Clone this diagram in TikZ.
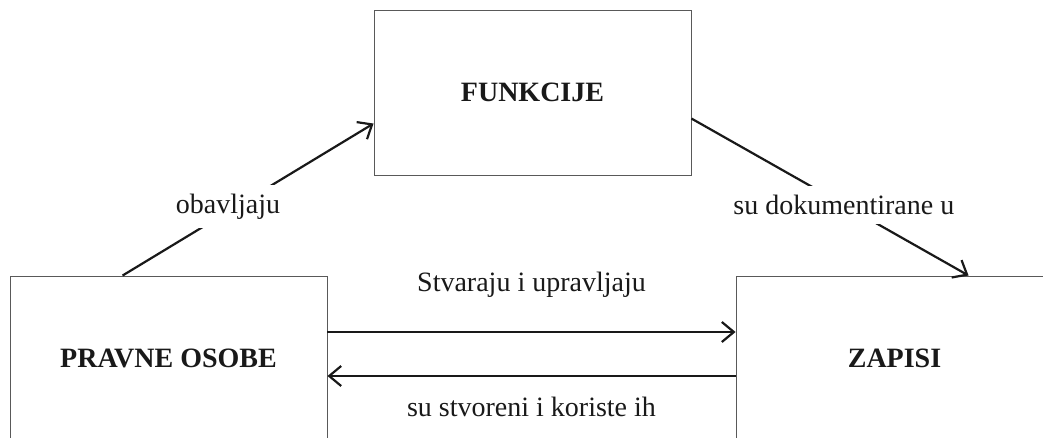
\documentclass[tikz,border=0pt]{standalone}
\usepackage{fontspec}
\setmainfont{Liberation Serif}
\usepackage{tikz}
\usetikzlibrary{arrows.meta,positioning,calc}
\tikzstyle{box}=[draw=black!65,line width=0.9pt,minimum width=317pt,inner sep=0pt,font=\fontsize{28}{32}\selectfont\bfseries,text=black!90]
\tikzstyle{link}=[line width=2.2pt,draw=black!90,-{Straight Barb[length=12pt,width=20pt]}]
\tikzstyle{lbl}=[font=\fontsize{28}{32}\selectfont,text=black!90]
\tikzstyle{cut}=[lbl,fill=white,inner sep=9pt]

\begin{document}
\begin{tikzpicture}[x=1pt,y=1pt]
\useasboundingbox (0,0) rectangle (1043,438);
\node [box,minimum height=165pt] (funkcije) at (532.5,345.5) {FUNKCIJE};
\node [box,minimum height=164pt] (pravne) at (168.5,80) {PRAVNE OSOBE};
\node [box,minimum height=164pt] (zapisi) at (894.5,80) {ZAPISI};

\draw [link] ([xshift=113pt]pravne.north west) --
	node [cut,pos=0.42,yshift=5pt] {obavljaju} ([yshift=-114pt]funkcije.north west);
\draw [link] ([yshift=-109pt]funkcije.north east) --
	node [cut,pos=0.55] {su dokumentirane u} ([xshift=233pt]zapisi.north west);
\draw [link] ([yshift=26pt]pravne.east) --
	node [lbl,midway,anchor=base,yshift=40pt] {Stvaraju i upravljaju} ([yshift=26pt]zapisi.west);
\draw [link] ([yshift=-18pt]zapisi.west) --
	node [lbl,midway,anchor=base,yshift=-41pt] {su stvoreni i koriste ih} ([yshift=-18pt]pravne.east);
\end{tikzpicture}
\end{document}
